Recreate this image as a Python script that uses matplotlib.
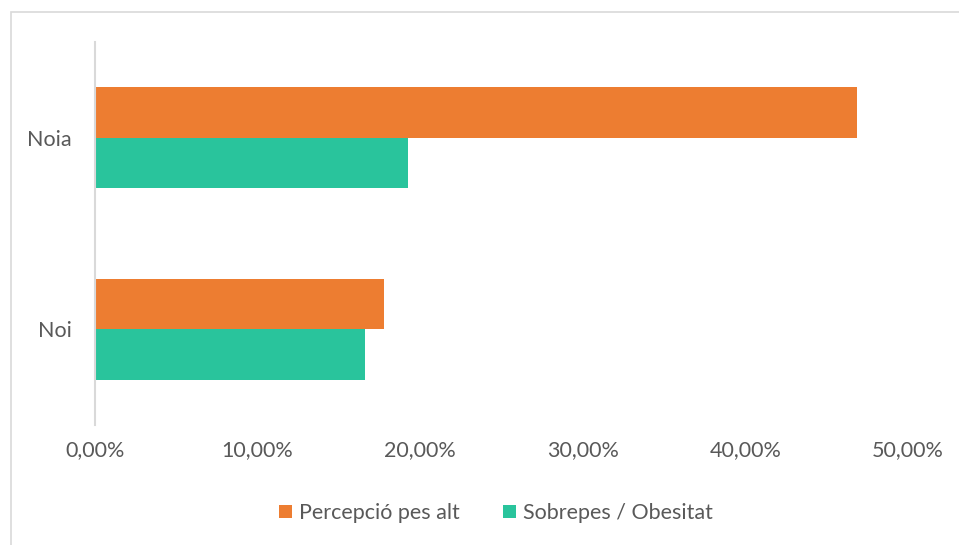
import matplotlib.pyplot as plt
from matplotlib.patches import Rectangle
from matplotlib.ticker import FuncFormatter
import numpy as np

plt.rcParams['font.family'] = ['Lato', 'DejaVu Sans']

categories = ['Noi', 'Noia']
percepcio = [0.1778, 0.4685]
sobrepes = [0.1658, 0.1928]
series_names = ['Percepció pes alt', 'Sobrepes / Obesitat']
colors = ['#ED7D31', '#29C49C']
text_color = '#595959'

fig = plt.figure(figsize=(9.59, 5.45), dpi=100)
ax = fig.add_axes([95 / 959, 1 - 425 / 545, 813 / 959, 383 / 545])

# marco gris del gráfico (recortado a la derecha y abajo)
fig.patches.append(Rectangle((11 / 959, -0.05), 1.0, 1 - 12 / 545 + 0.05,
                             transform=fig.transFigure, fill=False,
                             edgecolor='#d9d9d9', linewidth=1.2))

y = np.arange(len(categories))
h = 0.265
ax.barh(y + h / 2, percepcio, height=h, color=colors[0], label=series_names[0])
ax.barh(y - h / 2, sobrepes, height=h, color=colors[1], label=series_names[1])

ax.set_xlim(0, 0.5)
ax.set_ylim(-0.5, 1.5)
ax.set_yticks(y)
ax.set_yticklabels(categories)
ax.set_xticks(np.arange(0, 0.51, 0.1))
ax.xaxis.set_major_formatter(FuncFormatter(lambda v, p: f'{v*100:.2f}%'.replace('.', ',')))

for s in ['top', 'right', 'bottom']:
    ax.spines[s].set_visible(False)
ax.spines['left'].set_color('#d9d9d9')
ax.spines['left'].set_linewidth(1.5)
ax.tick_params(axis='both', length=0, labelsize=15.5, colors=text_color)
ax.tick_params(axis='x', pad=11)
ax.tick_params(axis='y', pad=17)

leg = fig.legend(loc='center', bbox_to_anchor=(496 / 959, 1 - 513 / 545), ncol=2,
                 frameon=False, fontsize=15.5, handlelength=0.6, handleheight=0.6,
                 handletextpad=0.35, columnspacing=2.0)
for t in leg.get_texts():
    t.set_color(text_color)

fig.savefig('out.png', dpi=100)
